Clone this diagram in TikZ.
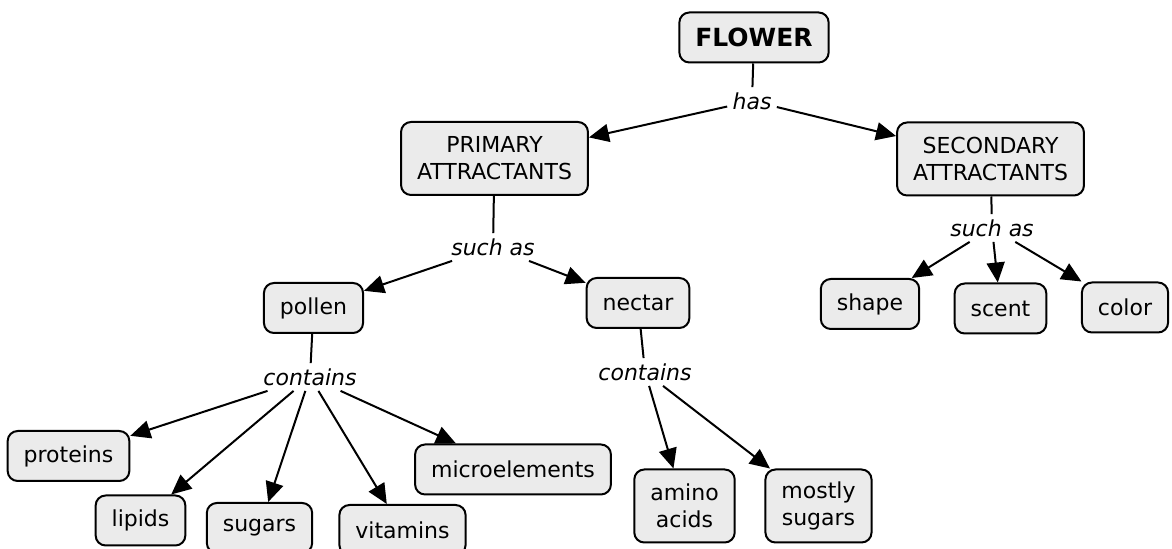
\documentclass[tikz,border=0pt]{standalone}
\usepackage{fontspec}
\setmainfont{DejaVu Sans}
\usetikzlibrary{arrows.meta}
\definecolor{boxfill}{HTML}{EBEBEB}
\begin{document}
\begin{tikzpicture}[x=0.5pt,y=-0.5pt,
    concept/.style={draw,line width=1pt,rounded corners=5pt,fill=boxfill,
      font=\fontsize{11}{13.5}\selectfont,align=center,
      inner xsep=8pt,inner ysep=6pt,minimum height=25pt},
    twoline/.style={concept,minimum height=36.5pt},
    linkphrase/.style={font=\fontsize{11}{13.5}\selectfont\itshape,inner sep=2.5pt}]
  \useasboundingbox (0,0) rectangle (1172,549);
  \draw
    (754,37.5) node[concept,font=\fontsize{12.5}{15}\selectfont\bfseries] (flower){FLOWER}
    (752,101) node[linkphrase] (has){has}
    (494.5,158.5) node[twoline] (primary){PRIMARY\\ATTRACTANTS}
    (990.5,159) node[twoline] (secondary){SECONDARY\\ATTRACTANTS}
    (493,247) node[linkphrase] (suchas1){such as}
    (992,228) node[linkphrase] (suchas2){such as}
    (313.5,308) node[concept] (pollen){pollen}
    (638,303) node[concept] (nectar){nectar}
    (870,304) node[concept] (shape){shape}
    (1000.5,308.5) node[concept] (scent){scent}
    (1125,307.5) node[concept] (color){color}
    (310,377) node[linkphrase] (contains1){contains}
    (645,372) node[linkphrase] (contains2){contains}
    (68.5,456) node[concept] (proteins){proteins}
    (140.5,520.5) node[concept] (lipids){lipids}
    (259.5,528) node[concept] (sugars){sugars}
    (402.5,530) node[concept] (vitamins){vitamins}
    (513,469.5) node[concept] (micro){microelements}
    (684.5,506) node[twoline] (amino){amino\\acids}
    (818.5,506) node[twoline] (mostly){mostly\\sugars};
  \begin{scope}[line width=1pt]
    \draw (flower) to (has);
    \draw (primary) to (suchas1);
    \draw (secondary) to (suchas2);
    \draw (pollen) to (contains1);
    \draw (nectar) to (contains2);
  \end{scope}
  \begin{scope}[line width=1pt,-{Triangle[length=10pt,width=9pt]}]
    \draw (has) to (primary);
    \draw (has) to (secondary);
    \draw (suchas1) to (pollen);
    \draw (suchas1) to (nectar);
    \draw (suchas2) to (shape);
    \draw (suchas2) to (scent);
    \draw (suchas2) to (color);
    \draw (contains1) to (proteins);
    \draw (contains1) to (lipids);
    \draw (contains1) to (sugars);
    \draw (contains1) to (vitamins);
    \draw (contains1) to (micro);
    \draw (contains2) to (amino);
    \draw (contains2) to (mostly);
  \end{scope}
\end{tikzpicture}
\end{document}
